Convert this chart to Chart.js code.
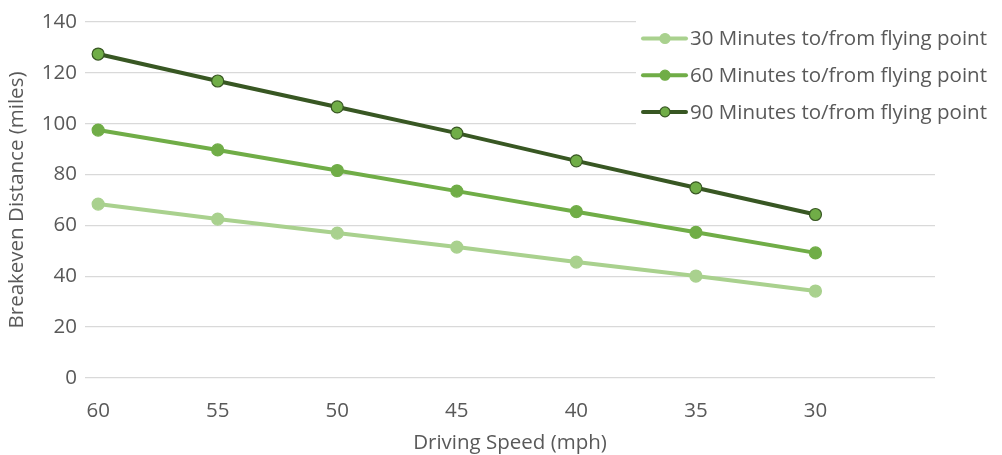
<!DOCTYPE html>
<html>
<head>
<meta charset="utf-8">
<script src="https://cdn.jsdelivr.net/npm/chart.js@4"></script>
<style>
  html, body { margin: 0; padding: 0; background: #fff; }
  #wrap { width: 1002px; height: 455px; }
</style>
</head>
<body>
<div id="wrap"><canvas id="breakevenChart"></canvas></div>
<script>
const speeds = [60, 55, 50, 45, 40, 35, 30]
const yTicks = [0, 20, 40, 60, 80, 100, 120, 140]

const labels = [
    "30 Minutes to/from flying point",
    "60 Minutes to/from flying point",
    "90 Minutes to/from flying point"
]
const min30 = [68.4, 62.5, 57.0, 51.5, 45.6, 40.1, 34.2]
const min60 = [97.5, 89.7, 81.6, 73.5, 65.4, 57.3, 49.2]
const min90 = [127.4, 116.8, 106.6, 96.3, 85.4, 74.8, 64.3]

const lineColors = ["#A9D18E", "#70AD47", "#385723"]
const markerFill = ["#A9D18E", "#70AD47", "#70AD47"]
const series = [min30, min60, min90]

const font = "'Open Sans'"
const fontSize = 20.5
const textColor = "#595959"

// legend drawn on top of the plot with a white box, like the original
const boxLegend = {
    id: 'boxLegend',
    afterDraw(chart) {
        const ctx = chart.ctx
        ctx.save()
        ctx.fillStyle = "#fff"
        ctx.fillRect(636, 0, 366, 130)
        chart.data.datasets.forEach((ds, i) => {
            const y = 38.5 + i * 36.7
            ctx.strokeStyle = ds.borderColor
            ctx.lineWidth = 4
            ctx.lineCap = 'round'
            ctx.beginPath()
            ctx.moveTo(643, y)
            ctx.lineTo(686, y)
            ctx.stroke()
            ctx.beginPath()
            ctx.arc(665, y, 5, 0, Math.PI * 2)
            ctx.fillStyle = ds.pointBackgroundColor
            ctx.fill()
            ctx.lineWidth = 1.2
            ctx.strokeStyle = ds.pointBorderColor
            ctx.stroke()
            ctx.fillStyle = textColor
            ctx.font = `${fontSize}px ${font}`
            ctx.textBaseline = 'middle'
            ctx.textAlign = 'left'
            ctx.fillText(ds.label, 690, y + 1)
        })
        ctx.restore()
    }
}

const ctx = document.getElementById('breakevenChart').getContext('2d')
new Chart(ctx, {
    type: 'line',
    data: {
        datasets: series.map((s, i) => ({
            label: labels[i],
            data: s.map((v, k) => ({ x: speeds[k], y: v })),
            borderColor: lineColors[i],
            backgroundColor: lineColors[i],
            pointBackgroundColor: markerFill[i],
            pointBorderColor: i == 2 ? "#385723" : lineColors[i],
            pointBorderWidth: 1.2,
            pointRadius: 6,
            borderWidth: 4,
            tension: 0
        }))
    },
    options: {
        responsive: true,
        maintainAspectRatio: false,
        animation: false,
        layout: { padding: { top: 22, right: 67, left: 0, bottom: 0 } },
        plugins: {
            legend: { display: false },
            tooltip: { enabled: false }
        },
        scales: {
            x: {
                type: 'linear',
                reverse: true,
                min: 25,
                max: 60.55,
                afterBuildTicks: (scale) => { scale.ticks = speeds.map(v => ({ value: v })) },
                afterFit: (scale) => { scale.height = 77 },
                grid: { display: false },
                border: { display: false },
                ticks: { color: textColor, font: { family: font, size: fontSize }, padding: 13 },
                title: {
                    display: true,
                    text: "Driving Speed (mph)",
                    color: textColor,
                    font: { family: font, size: fontSize },
                    padding: { top: 0, bottom: 0 }
                }
            },
            y: {
                min: 0,
                max: 140,
                afterBuildTicks: (scale) => { scale.ticks = yTicks.map(v => ({ value: v })) },
                afterFit: (scale) => { scale.width = 85 },
                grid: { color: "#D9D9D9", lineWidth: 1.3, drawTicks: false },
                border: { display: false },
                ticks: { color: textColor, font: { family: font, size: fontSize }, padding: 8 },
                title: {
                    display: true,
                    text: "Breakeven Distance (miles)",
                    color: textColor,
                    font: { family: font, size: fontSize },
                    padding: { top: 5, bottom: 0 }
                }
            }
        }
    },
    plugins: [boxLegend]
})
</script>
</body>
</html>
